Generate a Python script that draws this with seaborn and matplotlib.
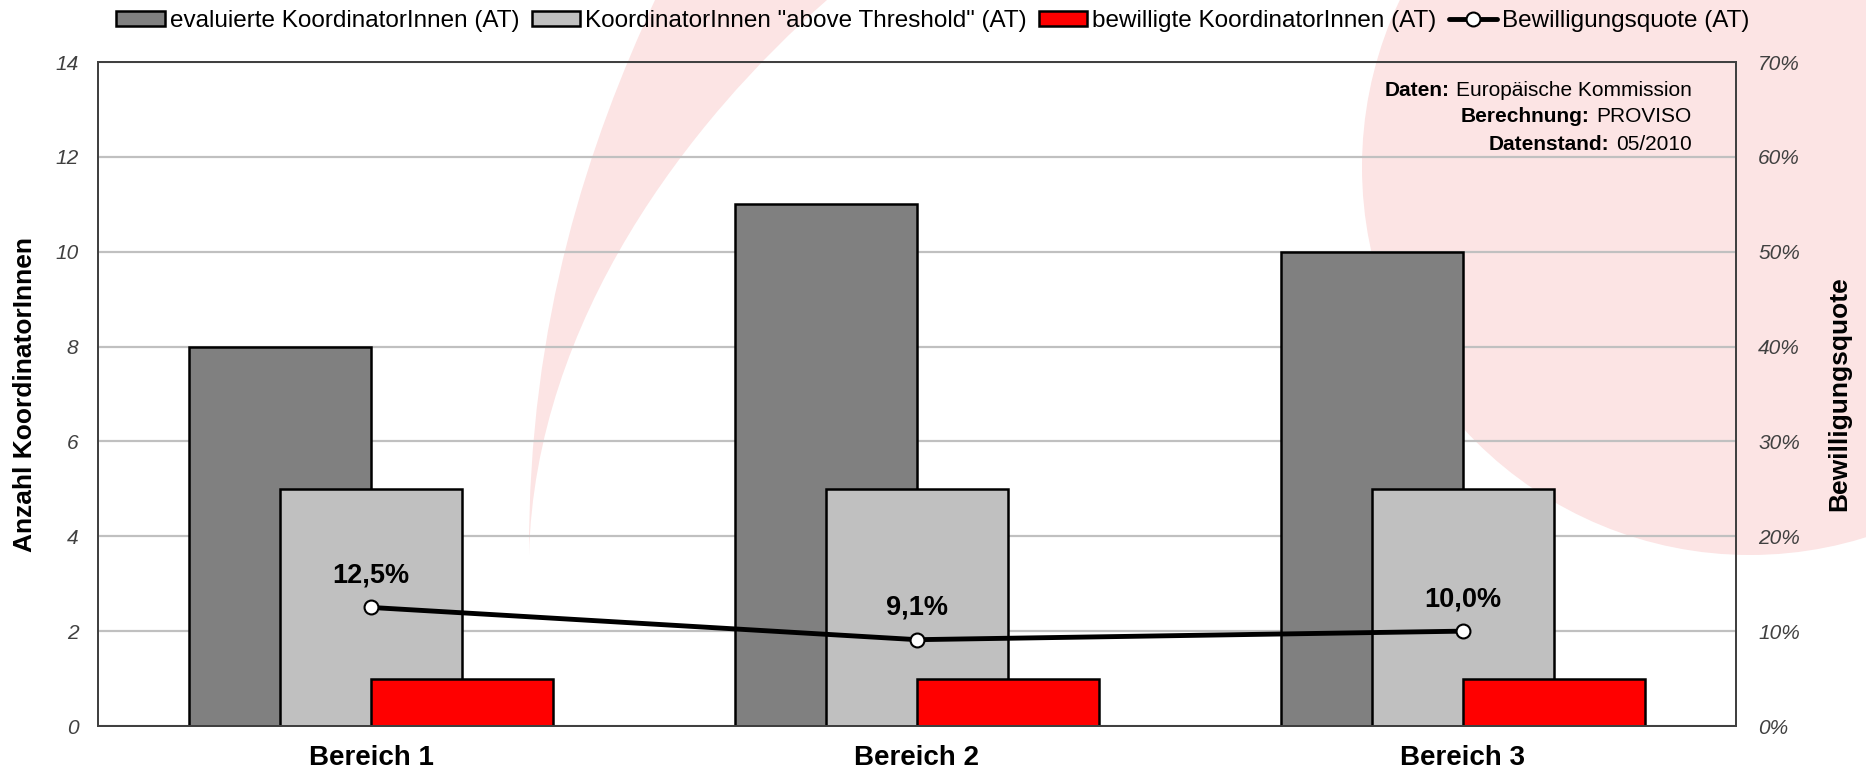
import matplotlib
matplotlib.use("Agg")
import pandas as pd
import seaborn as sns
import matplotlib.pyplot as plt
from matplotlib.patches import Circle, PathPatch, Patch
from matplotlib.path import Path
from matplotlib.lines import Line2D

# data
categories = ["Bereich 1", "Bereich 2", "Bereich 3"]
evaluiert = [8, 11, 10]
above_threshold = [5, 5, 5]
bewilligt = [1, 1, 1]
quote = [12.5, 9.1, 10.0]  # percent

series_names = [
    "evaluierte KoordinatorInnen (AT)",
    'KoordinatorInnen "above Threshold" (AT)',
    "bewilligte KoordinatorInnen (AT)",
    "Bewilligungsquote (AT)",
]
bar_colors = ["#808080", "#c0c0c0", "#ff0000"]
tick_color = "#404040"
pink = "#fce4e4"

sns.set_style("white")
plt.rcParams["font.family"] = ["Liberation Sans", "DejaVu Sans"]
plt.rcParams["text.color"] = "black"
plt.rcParams["axes.labelcolor"] = "black"
plt.rcParams["xtick.color"] = "black"

W, H = 1866, 774
fig = plt.figure(figsize=(W / 100, H / 100), dpi=100)

# decorative background (pixel coordinates)
bg = fig.add_axes([0, 0, 1, 1])
bg.set_xlim(0, W)
bg.set_ylim(H, 0)
bg.axis("off")
bg.add_patch(Circle((1750, 167), 388, facecolor=pink, lw=0))
swoosh = Path(
    [(655, 0), (590, 140), (528, 320), (529, 555),
     (535, 320), (690, 120), (827, 0), (655, 0)],
    [Path.MOVETO, Path.CURVE4, Path.CURVE4, Path.CURVE4,
     Path.CURVE4, Path.CURVE4, Path.CURVE4, Path.CLOSEPOLY],
)
bg.add_patch(PathPatch(swoosh, facecolor=pink, lw=0))

# main axes
ax = fig.add_axes([98 / W, 1 - 726 / H, (1736 - 98) / W, 664 / H])
ax.set_facecolor("none")

df = pd.DataFrame({
    "Bereich": categories * 3,
    "Anzahl": evaluiert + above_threshold + bewilligt,
    "Reihe": [n for n in series_names[:3] for _ in categories],
})
sns.barplot(data=df, x="Bereich", y="Anzahl", hue="Reihe",
            hue_order=series_names[:3], palette=bar_colors, width=0.5,
            saturation=1, edgecolor="black", linewidth=1.8, legend=False, ax=ax)

# excel style 50% overlap: widen each bar around its centre
for p in ax.patches:
    w = p.get_width()
    p.set_x(p.get_x() - w / 2)
    p.set_width(2 * w)

ax.set_xlim(-0.5, 2.5)
ax.set_ylim(0, 14)
ax.set_yticks(range(0, 15, 2), [str(v) for v in range(0, 15, 2)],
              fontstyle="italic", fontsize=15, color=tick_color)
ax.set_xticks(range(len(categories)), categories, fontsize=20,
              fontweight="bold", color="black")
ax.set_xticks([0.5, 1.5], minor=True)
ax.tick_params(axis="x", which="major", length=0, pad=14)
ax.tick_params(axis="x", which="minor", direction="in", length=8, width=1, color=tick_color)
ax.tick_params(axis="y", length=0, pad=14)
ax.grid(axis="y", color="#c0c0c0", lw=1.6)
ax.set_axisbelow(True)
ax.set_xlabel("")
ax.set_ylabel("Anzahl KoordinatorInnen", fontsize=19, fontweight="bold")
ax.yaxis.set_label_coords(-0.037, 0.5)
for sp in ax.spines.values():
    sp.set_color(tick_color)
    sp.set_linewidth(1.3)

# secondary axis with the quota line
ax2 = ax.twinx()
sns.lineplot(x=list(range(len(categories))), y=quote, ax=ax2, color="black",
             lw=3.5, marker="o", markersize=10, markerfacecolor="white",
             markeredgecolor="black", markeredgewidth=1.5)
ax2.set_ylim(0, 70)
ax2.set_yticks(range(0, 71, 10), [f"{v}%" for v in range(0, 71, 10)],
               fontstyle="italic", fontsize=15, color=tick_color)
ax2.tick_params(axis="y", length=0, pad=16)
ax2.set_ylabel("Bewilligungsquote", fontsize=19, fontweight="bold", rotation=90)
ax2.yaxis.set_label_coords(1.056, 0.5)
for sp in ax2.spines.values():
    sp.set_color(tick_color)
    sp.set_linewidth(1.3)

for i, q in enumerate(quote):
    ax2.annotate(f"{q:.1f}".replace(".", ",") + "%", (i, q), xytext=(0, 23),
                 textcoords="offset points", ha="center", va="center",
                 fontsize=19.5, fontweight="bold")

# source note
notes = [("Daten:", "Europäische Kommission"),
         ("Berechnung:", "PROVISO"),
         ("Datenstand:", "05/2010")]
for k, (bold, normal) in enumerate(notes):
    t = fig.text(1692 / W, 1 - (90 + 27 * k) / H, normal, ha="right",
                 va="center", fontsize=15)
    ax.annotate(bold, xy=(0, 0), xycoords=t, xytext=(-5, 0),
                textcoords="offset points", ha="right", va="bottom",
                fontsize=15, fontweight="bold")

# legend
handles = [Patch(facecolor=c, edgecolor="black", lw=1.8) for c in bar_colors]
handles.append(Line2D([], [], color="black", lw=3.5, marker="o", markersize=10,
                      markerfacecolor="white", markeredgecolor="black",
                      markeredgewidth=1.5))
fig.legend(handles, series_names, loc="center", bbox_to_anchor=(0.5, 1 - 21 / H),
           ncol=4, frameon=False, fontsize=17.5, handlelength=2.0,
           handleheight=0.6, handletextpad=0.2, columnspacing=0.5)

fig.savefig("out.png", dpi=100)
